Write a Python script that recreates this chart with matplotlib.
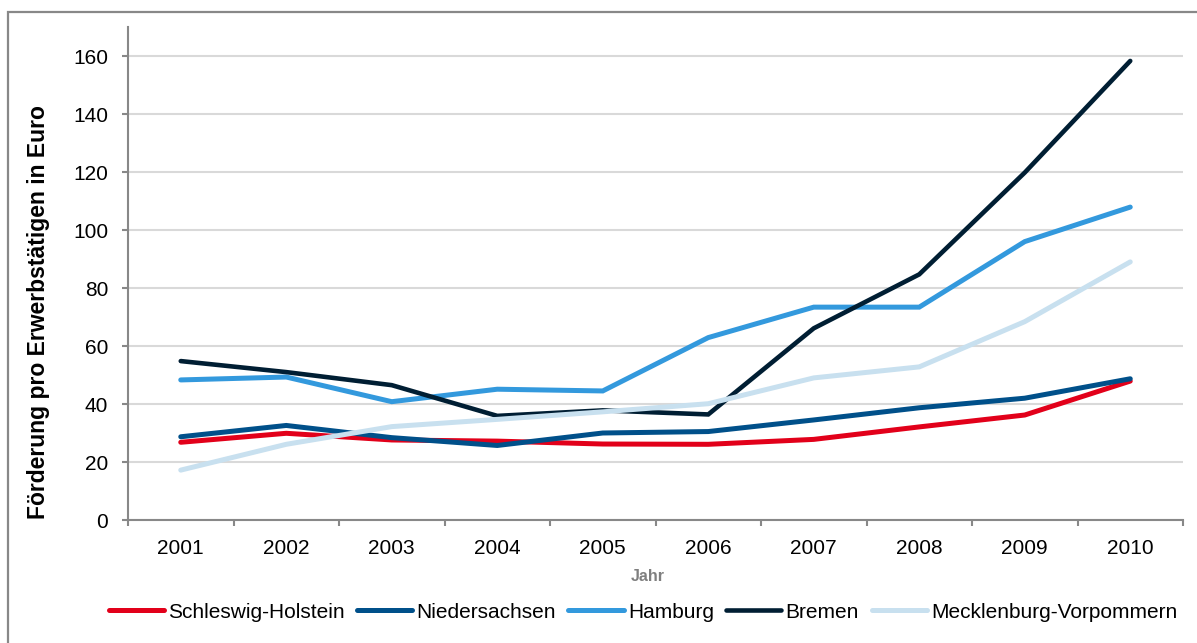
import matplotlib.pyplot as plt
from matplotlib.patches import Rectangle
import numpy as np

plt.rcParams['font.family'] = ['Liberation Sans', 'DejaVu Sans']

years = ['2001', '2002', '2003', '2004', '2005', '2006', '2007', '2008', '2009', '2010']

schleswig_holstein = [26.8, 29.9, 27.6, 27.2, 26.2, 26.1, 27.8, 32.1, 36.2, 47.9]
niedersachsen = [28.7, 32.6, 28.4, 25.7, 30.0, 30.5, 34.5, 38.7, 42.0, 48.7]
hamburg = [48.3, 49.3, 40.8, 45.1, 44.5, 62.9, 73.4, 73.4, 96.0, 107.9]
bremen = [54.8, 51.0, 46.5, 35.9, 37.8, 36.4, 66.1, 84.7, 119.8, 158.3]
mecklenburg = [17.2, 26.1, 32.2, 34.7, 37.3, 40.1, 49.0, 52.8, 68.4, 89.0]

series = [
    ('Schleswig-Holstein', schleswig_holstein, '#E2001A', 3.6),
    ('Niedersachsen', niedersachsen, '#00508A', 3.6),
    ('Hamburg', hamburg, '#3399DD', 3.6),
    ('Bremen', bremen, '#001E33', 3.3),
    ('Mecklenburg-Vorpommern', mecklenburg, '#C8E0EF', 3.6),
]

fig = plt.figure(figsize=(11.97, 6.43), dpi=100)
fig.patches.append(Rectangle((8 / 1197, -0.1), 1.1, 1.1 - 12 / 643,
                             transform=fig.transFigure, fill=False,
                             edgecolor='#888888', linewidth=1.6))
ax = fig.add_axes([128 / 1197, 1 - 520 / 643, (1183 - 128) / 1197, (520 - 27) / 643])

x = np.arange(len(years))
for name, vals, col, lw in series:
    ax.plot(x, vals, color=col, lw=lw, label=name, solid_capstyle='round',
            solid_joinstyle='miter')

ax.set_xlim(-0.5, len(years) - 0.5)
ax.set_ylim(0, 170)
ax.set_yticks(np.arange(0, 161, 20))
ax.set_xticks(np.arange(-0.5, len(years), 1.0))
ax.set_xticklabels([])
ax.set_xticks(x, minor=True)
ax.set_xticklabels(years, minor=True)
ax.tick_params(axis='x', which='minor', length=0, pad=13.5, labelsize=15)
ax.tick_params(axis='x', which='major', length=4.3, width=1.5, color='#888888')
ax.tick_params(axis='y', length=4.3, width=1.5, color='#888888', labelsize=15, pad=10)

ax.grid(axis='y', color='#D9D9D9', lw=1.5)
ax.set_axisbelow(True)
for s in ['top', 'right']:
    ax.spines[s].set_visible(False)
for s in ['left', 'bottom']:
    ax.spines[s].set_color('#888888')
    ax.spines[s].set_linewidth(1.5)

ax.set_ylabel('Förderung pro Erwerbstätigen in Euro', fontsize=16.5,
              fontweight='bold')
ax.yaxis.set_label_coords(-0.074, 0.422)
ax.set_xlabel('Jahr', fontsize=11.5, fontweight='bold', color='#7F7F7F')
ax.xaxis.set_label_coords(0.493, -0.099)

ax.legend(loc='center', bbox_to_anchor=(0.488, -0.187), ncol=5, frameon=False,
          fontsize=15, handlelength=2.65, handletextpad=0.2, columnspacing=0.6,
          borderaxespad=0)

fig.savefig('out.png', dpi=100)
